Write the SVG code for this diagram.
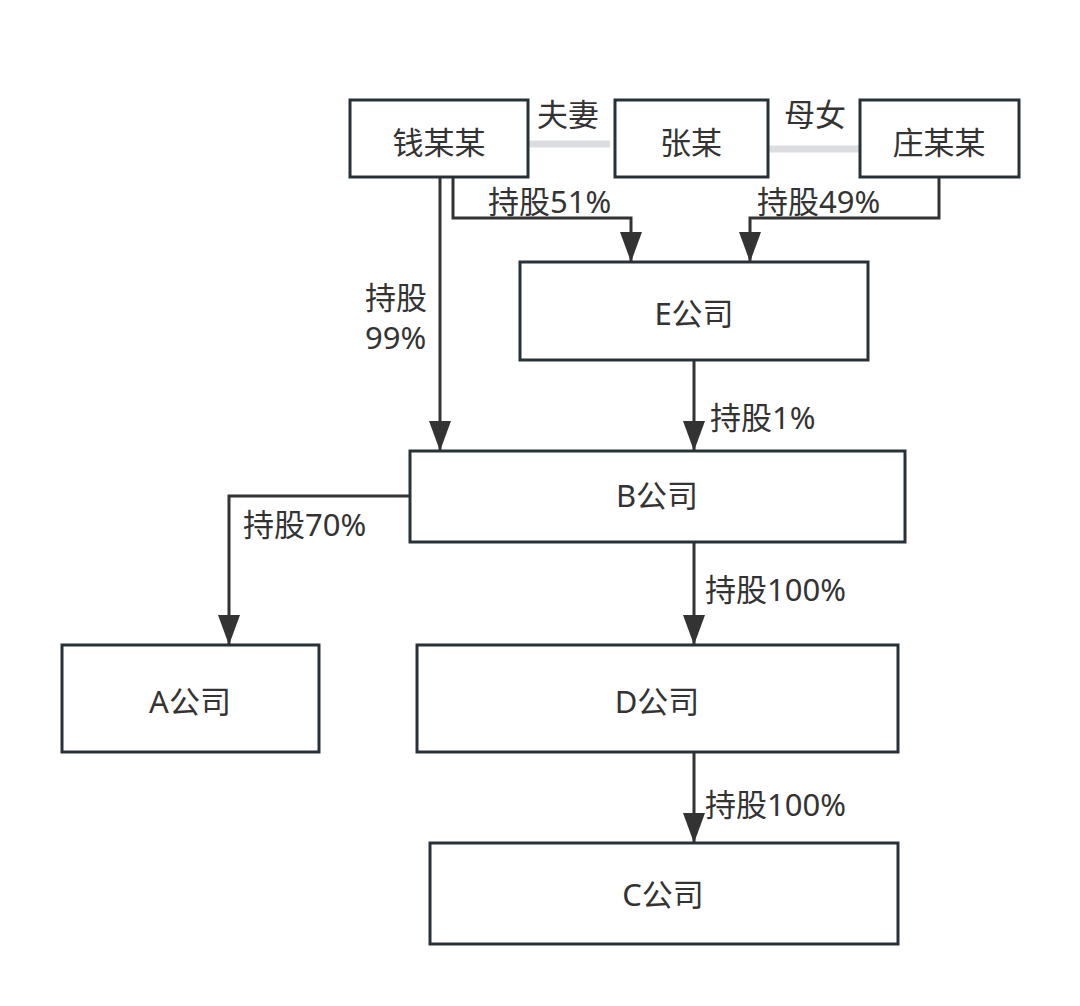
<svg xmlns="http://www.w3.org/2000/svg" width="1080" height="1006" viewBox="0 0 1080 1006">
<style>
.box{fill:#fff;stroke:#263238;stroke-width:3}
.t{font-family:"Noto Sans","Noto Sans CJK SC",sans-serif;font-size:31px;fill:#333;text-anchor:middle;dominant-baseline:central}
.lb{font-family:"Noto Sans","Noto Sans CJK SC",sans-serif;font-size:31px;fill:#333}
.c{fill:none;stroke:#333;stroke-width:3;marker-end:url(#ah)}
.rel{stroke:#dcdde1;stroke-width:7}
</style>
<defs>
<marker id="ah" markerUnits="userSpaceOnUse" markerWidth="30" markerHeight="22" viewBox="0 0 30 22" refX="30" refY="11" orient="auto">
<path d="M0,0 L30,11 L0,22 z" fill="#333"/>
</marker>
</defs>
<rect width="1080" height="1006" fill="#fff"/>
<g id="connectors">
<line class="rel" x1="529" y1="144" x2="610" y2="144"/>
<line class="rel" x1="769" y1="149" x2="860" y2="149"/>
<path class="c" d="M440 177 V451"/>
<path class="c" d="M453 177 V218 H631 V262"/>
<path class="c" d="M939 177 V218 H750 V262"/>
<path class="c" d="M694 360 V451"/>
<path class="c" d="M410 496 H229 V645"/>
<path class="c" d="M694 542 V645"/>
<path class="c" d="M694 752 V843"/>
</g>
<g id="labels">
<text class="lb" x="568" y="126" text-anchor="middle">夫妻</text>
<text class="lb" x="815" y="126" text-anchor="middle">母女</text>
<text class="lb" x="488" y="213">持股51%</text>
<text class="lb" x="757" y="213">持股49%</text>
<text class="lb" x="365" y="309">持股</text>
<text class="lb" x="365" y="349">99%</text>
<text class="lb" x="710" y="429">持股1%</text>
<text class="lb" x="243" y="536">持股70%</text>
<text class="lb" x="705" y="601">持股100%</text>
<text class="lb" x="705" y="816">持股100%</text>
</g>
<g id="qian"><rect class="box" x="350" y="100" width="178" height="77"/><text class="t" x="439" y="142">钱某某</text></g>
<g id="zhang"><rect class="box" x="615" y="100" width="153" height="77"/><text class="t" x="691" y="142">张某</text></g>
<g id="zhuang"><rect class="box" x="860" y="100" width="159" height="77"/><text class="t" x="939" y="142">庄某某</text></g>
<g id="E"><rect class="box" x="520" y="262" width="348" height="98"/><text class="t" x="694" y="313">E公司</text></g>
<g id="B"><rect class="box" x="410" y="451" width="495" height="91"/><text class="t" x="657" y="495">B公司</text></g>
<g id="A"><rect class="box" x="62" y="645" width="257" height="107"/><text class="t" x="190" y="701">A公司</text></g>
<g id="D"><rect class="box" x="417" y="645" width="481" height="107"/><text class="t" x="657" y="701">D公司</text></g>
<g id="C"><rect class="box" x="430" y="843" width="468" height="101"/><text class="t" x="663" y="894">C公司</text></g>
</svg>
